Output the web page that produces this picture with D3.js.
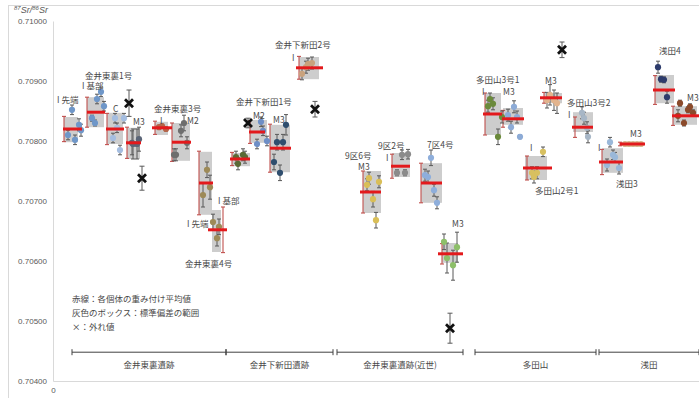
<!DOCTYPE html>
<html><head><meta charset="utf-8">
<script src="https://cdn.jsdelivr.net/npm/d3@7"></script>
<style>
html,body{margin:0;padding:0;background:#fff;}
svg{display:block;font-family:"Noto Sans CJK JP","Noto Sans",sans-serif;}
</style>
</head><body>
<svg id="chart" width="699" height="398"></svg>
<script>
// ---------- data ----------
const yTicks = [0.704, 0.705, 0.706, 0.707, 0.708, 0.709, 0.710];

const boxStart = [1.1,3.4,5.4,7.4,10.2,11.9,14.6,15.9,17.9,19.7,21.7,24.6,31.0,33.9,36.8,38.9,43.2,45.0,47.2,49.1,52.0,54.9,56.7,60.2,62.0];
const boxEnd   = [2.5,5.1,7.0,8.7,11.5,13.7,15.9,16.8,19.7,21.4,23.7,26.6,32.8,35.7,38.9,40.5,44.8,47.0,49.4,50.9,54.0,57.0,59.0,62.1,64.4];
const sdHigh   = [0.70840,0.70873,0.70847,0.70822,0.70832,0.70830,0.70782,0.70685,0.70780,0.70835,0.70827,0.70940,0.70750,0.70780,0.70763,0.70630,0.70880,0.70855,0.70775,0.70880,0.70848,0.70788,0.70798,0.70910,0.70858];
const sdLow    = [0.70798,0.70823,0.70795,0.70770,0.70810,0.70767,0.70677,0.70615,0.70758,0.70797,0.70748,0.70903,0.70680,0.70740,0.70697,0.70597,0.70810,0.70827,0.70735,0.70863,0.70815,0.70747,0.70792,0.70863,0.70827];
const meanValue= [0.70820,0.70848,0.70820,0.70797,0.70822,0.70798,0.70730,0.70652,0.70770,0.70815,0.70788,0.70922,0.70715,0.70758,0.70730,0.70612,0.70845,0.70837,0.70755,0.70872,0.70823,0.70765,0.70795,0.70885,0.70842];
const meanStart= [1.0,3.4,5.3,7.3,9.9,11.9,14.6,15.5,17.7,19.6,21.7,24.3,30.7,33.8,36.8,38.5,43.0,44.9,47.0,48.7,51.9,54.6,56.7,60.0,61.9];
const meanEnd  = [2.9,5.2,7.1,8.8,11.9,13.8,16.0,17.4,19.7,21.2,23.8,27.0,32.8,35.7,38.9,41.0,44.9,47.1,49.9,50.9,54.0,57.0,59.2,62.2,64.6];
const meanErrX = [1.1,3.4,5.4,7.4,10.2,11.9,14.6,17.0,17.9,19.7,21.7,24.6,31.0,33.9,36.8,38.9,43.2,45.0,47.4,49.1,52.2,54.9,56.7,60.2,62.0];
const meanError= [0.00021,0.00025,0.00026,0.00026,0.00011,0.00032,0.00053,0.00038,0.00011,0.00019,0.00040,0.00019,0.00035,0.00020,0.00033,0.00017,0.00035,0.00014,0.00020,0.00009,0.00017,0.00021,0.00003,0.00024,0.00016];
const pointColor = ["#6f97c9","#6f97c9","#a4bde0","#5b6577","#b5654a","#6e6e6e","#9d8a57","#9d8a57","#5a6a36","#6d8ec6","#2f4e6e","#c9a27c","#d9be57","#8b8b8b","#8eaedb","#8dbf69","#6b8a3b","#8dabd6","#d8c060","#e2b48e","#a7b6c6","#9ab8d9","#d5b78e","#2e3c6c","#8b4a2b"];

const pointX = [
  [1.9,1.5,2.2,2.6,2.8],[4.8,4.4,5.1,3.9,4.2],[6.2,7.1,6.0,6.7,6.4],[8.0,8.4,8.6,7.9],
  [10.6,10.9,11.3],[13.1,12.8,12.3,12.1,13.4],[15.4,15.7,15.0],[16.0,16.6,16.4],
  [18.5,19.0,19.2,18.3],[20.8,20.4,21.0,21.4],[23.3,22.4,23.0,22.1,22.7],[24.9,25.3,25.5,25.9],
  [31.4,32.0,32.6,32.3,31.6],[34.9,35.5,34.4,35.2],[37.8,37.2,37.5,38.1,38.4],[39.1,39.4,40.0,40.4],
  [43.7,44.0,43.5,44.9,44.5],[46.1,45.5,46.4,45.8,46.7],[49.0,48.4,48.1,47.9],[49.7,50.1,50.4,49.4],
  [52.9,53.1,53.4,53.5],[55.7,56.0,56.2,55.4,56.6],[57.2,57.6,58.0,58.4,58.8],[60.5,60.8,61.1,61.4],
  [62.7,63.7,63.5,62.5,63.1,64.0]
];
const pointValue = [
  [0.70852,0.70810,0.70802,0.70827,0.70818],[0.70882,0.70870,0.70858,0.70838,0.70830],[0.70838,0.70838,0.70805,0.70785,0.70822],[0.70795,0.70795,0.70803,0.70797],
  [0.70823,0.70825,0.70820],[0.70830,0.70817,0.70777,0.70777,0.70797],[0.70752,0.70723,0.70710],[0.70665,0.70657,0.70638],
  [0.70762,0.70777,0.70773,0.70773],[0.70832,0.70795,0.70817,0.70800],[0.70827,0.70798,0.70798,0.70765,0.70747],[0.70912,0.70923,0.70928,0.70930],
  [0.70727,0.70703,0.70732,0.70668,0.70738],[0.70777,0.70778,0.70747,0.70747],[0.70772,0.70743,0.70740,0.70718,0.70697],[0.70632,0.70605,0.70593,0.70623],
  [0.70870,0.70862,0.70858,0.70840,0.70807],[0.70857,0.70843,0.70840,0.70823,0.70807],[0.70782,0.70747,0.70740,0.70747],[0.70877,0.70868,0.70863,0.70868],
  [0.70847,0.70838,0.70822,0.70807],[0.70798,0.70777,0.70773,0.70760,0.70755],[0.70795,0.70795,0.70795,0.70795,0.70795],[0.70923,0.70903,0.70902,0.70873],
  [0.70863,0.70857,0.70852,0.70842,0.70830,0.70847]
];
const pointError = [
  [0.00008,0.00008,0.00008,0.0001,0.0001],[0.00008,0.00008,0.00008,0.00005,0.00005],[0.00008,0.00008,0.00008,0.00008,0.00008],[0.00025,0.00025,0.0002,0.0002],
  [0.00003,0.00003,0.00003],[0.00013,0.0001,0.0001,0.0001,0.0001],[0.00013,0.0002,0.0002],[0.00013,0.00013,0.00013],
  [0.0001,0.0001,0.0001,0.0001],[0.00008,0.00008,0.00008,0.00008],[0.00017,0.00013,0.00013,0.00013,0.00013],[0.0001,0.0001,0.0001,0.0001],
  [0.0001,0.00013,0.0001,0.00013,0.0001],[0.00008,0.00008,0.00005,0.00005],[0.00013,0.0001,0.0001,0.0001,0.0001],[0.00013,0.00025,0.00025,0.00025],
  [0.0001,0.0001,0.0001,0.0001,0.00013],[0.0001,0.0001,0.0001,0.0001,0.00003],[0.00008,0.0001,0.0001,0.0001],[0.00017,0.00017,0.00017,0.00013],
  [0.0001,0.0001,0.0001,0.0001],[0.00008,0.00008,0.00008,0.0001,0.0001],[0.00002,0.00002,0.00002,0.00002,0.00002],[0.0001,0.00005,0.00005,0.0001],
  [0.00005,0.00005,0.00005,0.0001,0.00005,0.00005]
];

const outlierX     = [7.6, 8.9, 19.5, 26.2, 39.7, 50.9];
const outlierValue = [0.70863, 0.70738, 0.70830, 0.70853, 0.70488, 0.70952];
const outlierError = [0.00022, 0.0002, 0.00008, 0.00013, 0.00025, 0.00013];

const labelText  = ["I 先端","I 基部","金井東裏1号","C","M3","金井東裏3号","I","M2","I 基部","I 先端","金井東裏4号",
                    "金井下新田1号","M2","M3","金井下新田2号","I",
                    "9区6号","M3","9区2号","I","7区4号","M3",
                    "多田山3号1","I","M3","I","多田山2号1","M3","多田山3号2","I",
                    "I","浅田3","M3","浅田4","M3"];
const labelX     = [0.4,2.9,3.2,6.0,8.0,10.1,10.7,13.4,16.5,13.4,13.2,
                    18.3,20.0,22.0,22.2,23.9,
                    29.2,30.5,32.5,33.3,37.4,39.9,
                    42.3,42.9,45.0,47.7,48.2,49.2,51.4,51.5,
                    54.5,56.3,57.7,60.6,63.4];
const labelValue = [0.70863,0.70886,0.70904,0.70848,0.70827,0.70848,0.70828,0.70828,0.70695,0.70657,0.70590,
                    0.70860,0.70836,0.70830,0.70955,0.70933,
                    0.70770,0.70752,0.70787,0.70767,0.70788,0.70657,
                    0.70897,0.70876,0.70877,0.70783,0.70712,0.70895,0.70858,0.70838,
                    0.70783,0.70723,0.70807,0.70945,0.70867];

const siteNames = ["金井東裏遺跡","金井下新田遺跡","金井東裏遺跡(近世)","多田山","浅田"];
const siteStart = [1.9, 17.3, 28.4, 42.2, 54.6];
const siteEnd   = [17.3, 28.0, 41.0, 54.3, 64.6];
const siteAxisValue = 0.70448;

const legendLines = ["赤線：各個体の重み付け平均値","灰色のボックス：標準偏差の範囲","×：外れ値"];

// ---------- layout ----------
const svg = d3.select("#chart");
const x = d3.scaleLinear().domain([0, 64.6]).range([53, 699]);
const y = d3.scaleLinear().domain([0.704, 0.710]).range([381, 21]);
const txt = "#595959";

svg.append("rect").attr("x",8.5).attr("y",5.5).attr("width",720).attr("height",420)
  .attr("fill","none").attr("stroke","#d9d9d9");

const yAxis = d3.axisLeft(y).tickValues(yTicks).tickFormat(d3.format(".5f")).tickSize(0).tickPadding(6);
const gy = svg.append("g").attr("transform","translate(53,0)").call(yAxis);
gy.select(".domain").attr("stroke","#d9d9d9");
gy.selectAll("text").attr("fill",txt).attr("font-size",8).attr("font-family","Liberation Sans, Arial, sans-serif");

const xAxis = d3.axisBottom(x).tickValues([0]).tickSize(0).tickPadding(6);
const gx = svg.append("g").attr("transform","translate(0,381)").call(xAxis);
gx.select(".domain").attr("stroke","#d9d9d9");
gx.selectAll("text").attr("fill",txt).attr("font-size",8).attr("font-family","Liberation Sans, Arial, sans-serif");

const yt = svg.append("text").attr("x",14).attr("y",13).attr("fill",txt).attr("font-size",9)
  .attr("font-style","italic").attr("font-family","Liberation Sans, Arial, sans-serif");
yt.append("tspan").attr("font-size",6).attr("dy",-3).text("87");
yt.append("tspan").attr("dy",3).text("Sr/");
yt.append("tspan").attr("font-size",6).attr("dy",-3).text("86");
yt.append("tspan").attr("dy",3).text("Sr");

const idx = d3.range(boxStart.length);

svg.append("g").selectAll("rect").data(idx).join("rect")
  .attr("x", i => x(boxStart[i])).attr("width", i => x(boxEnd[i]) - x(boxStart[i]))
  .attr("y", i => y(sdHigh[i])).attr("height", i => Math.max(2, y(sdLow[i]) - y(sdHigh[i])))
  .attr("fill","#c8c8c8").attr("opacity",0.9);

const me = svg.append("g").attr("stroke","#c0504d").attr("stroke-width",1.1);
idx.forEach(i => {
  const cx = x(meanErrX[i]), y1 = y(meanValue[i] + meanError[i]), y2 = y(meanValue[i] - meanError[i]);
  me.append("line").attr("x1",cx).attr("x2",cx).attr("y1",y1).attr("y2",y2);
  me.append("line").attr("x1",cx-2).attr("x2",cx+2).attr("y1",y1).attr("y2",y1);
  me.append("line").attr("x1",cx-2).attr("x2",cx+2).attr("y1",y2).attr("y2",y2);
});

const pg = svg.append("g");
idx.forEach(i => {
  pointX[i].forEach((px, j) => {
    const cx = x(px), v = pointValue[i][j], e = pointError[i][j];
    const y1 = y(v + e), y2 = y(v - e);
    pg.append("line").attr("x1",cx).attr("x2",cx).attr("y1",y1).attr("y2",y2).attr("stroke","#595959").attr("stroke-width",1);
    pg.append("line").attr("x1",cx-2).attr("x2",cx+2).attr("y1",y1).attr("y2",y1).attr("stroke","#595959");
    pg.append("line").attr("x1",cx-2).attr("x2",cx+2).attr("y1",y2).attr("y2",y2).attr("stroke","#595959");
  });
});
idx.forEach(i => {
  pointX[i].forEach((px, j) => {
    pg.append("circle").attr("cx", x(px)).attr("cy", y(pointValue[i][j])).attr("r",3.1)
      .attr("fill", pointColor[i]);
  });
});

svg.append("g").selectAll("line").data(idx).join("line")
  .attr("x1", i => x(meanStart[i])).attr("x2", i => x(meanEnd[i]))
  .attr("y1", i => y(meanValue[i])).attr("y2", i => y(meanValue[i]))
  .attr("stroke","#e3191c").attr("stroke-width",3);

const og = svg.append("g");
outlierX.forEach((ox, k) => {
  const cx = x(ox), cy = y(outlierValue[k]);
  const y1 = y(outlierValue[k] + outlierError[k]), y2 = y(outlierValue[k] - outlierError[k]);
  og.append("line").attr("x1",cx).attr("x2",cx).attr("y1",y1).attr("y2",y2).attr("stroke","#595959");
  og.append("line").attr("x1",cx-2.5).attr("x2",cx+2.5).attr("y1",y1).attr("y2",y1).attr("stroke","#595959");
  og.append("line").attr("x1",cx-2.5).attr("x2",cx+2.5).attr("y1",y2).attr("y2",y2).attr("stroke","#595959");
  const s = 4;
  og.append("path").attr("d",`M${cx-s},${cy-s}L${cx+s},${cy+s}M${cx-s},${cy+s}L${cx+s},${cy-s}`)
    .attr("stroke","#111").attr("stroke-width",2.8);
});

svg.append("g").selectAll("text").data(labelText).join("text")
  .attr("x", (d,k) => x(labelX[k])).attr("y", (d,k) => y(labelValue[k]))
  .attr("font-size",8.5).attr("fill","#484848").text(d => d);

const sg = svg.append("g").attr("stroke","#404040").attr("stroke-width",1);
const sy = y(siteAxisValue);
siteNames.forEach((n, k) => {
  const a = x(siteStart[k]), b = x(siteEnd[k]);
  sg.append("line").attr("x1",a).attr("x2",b).attr("y1",sy).attr("y2",sy);
  sg.append("line").attr("x1",a).attr("x2",a).attr("y1",sy-3).attr("y2",sy+3);
  sg.append("line").attr("x1",b).attr("x2",b).attr("y1",sy-3).attr("y2",sy+3);
  svg.append("text").attr("x",(a+b)/2).attr("y",sy+16).attr("text-anchor","middle")
    .attr("font-size",8.5).attr("fill","#484848").text(n);
});

legendLines.forEach((t, k) => {
  svg.append("text").attr("x",72).attr("y",302 + k*14).attr("font-size",8.5).attr("fill","#484848").text(t);
});
</script>
</body></html>
